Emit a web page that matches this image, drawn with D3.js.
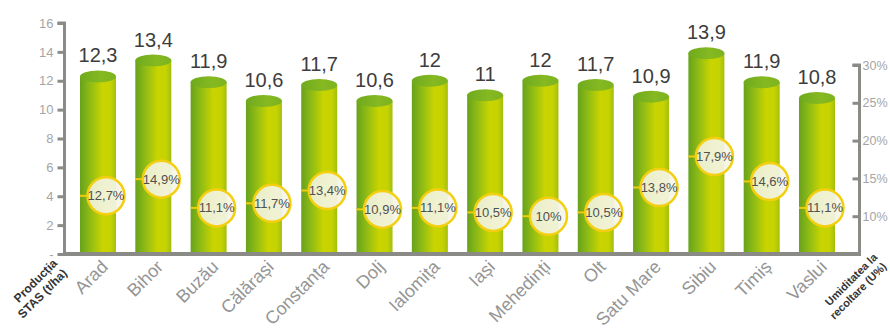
<!DOCTYPE html>
<html>
<head>
<meta charset="utf-8">
<script src="https://cdn.jsdelivr.net/npm/d3@7"></script>
<style>
  html, body { margin: 0; padding: 0; background: #fff; }
  svg { display: block; font-family: "Liberation Sans", Arial, sans-serif; }
</style>
</head>
<body>
<svg id="chart" width="890" height="329"></svg>
<script>
// Judeţe and their values
const categories = ["Arad", "Bihor", "Buzău", "Călărași", "Constanța", "Dolj", "Ialomița",
                    "Iași", "Mehedinți", "Olt", "Satu Mare", "Sibiu", "Timiș", "Vaslui"];
const production = [12.3, 13.4, 11.9, 10.6, 11.7, 10.6, 12, 11, 12, 11.7, 10.9, 13.9, 11.9, 10.8];
const humidity   = [12.7, 14.9, 11.1, 11.7, 13.4, 10.9, 11.1, 10.5, 10, 10.5, 13.8, 17.9, 14.6, 11.1];
const leftTicks  = [0, 2, 4, 6, 8, 10, 12, 14, 16];
const rightTicks = [10, 15, 20, 25, 30];

const svg = d3.select("#chart");
const base = 254;
const axisColor = "#8a8a86";
const fmt = v => String(v).replace(".", ",");

const x = d3.scalePoint().domain(categories).range([98, 817]);
const y = d3.scaleLinear().domain([0, 16]).range([base, 23]);
const yR = d3.scaleLinear().domain([5, 30]).range([base, 65]);
const barW = 36, ry = 6;

// gradients for the cylinders
const defs = svg.append("defs");
function gradient(id, stops) {
  const g = defs.append("linearGradient").attr("id", id)
    .attr("x1", 0).attr("x2", 1).attr("y1", 0).attr("y2", 0);
  stops.forEach(([o, c]) => g.append("stop").attr("offset", o).attr("stop-color", c));
}
gradient("cylBody", [["0%", "#67a21c"], ["30%", "#92bd14"], ["62%", "#c9d400"], ["85%", "#c6d302"], ["100%", "#a2bf0e"]]);
gradient("cylTop", [["0%", "#6eaa1e"], ["60%", "#86b921"], ["100%", "#7cb31f"]]);
gradient("disc", [["0%", "#eef1d6"], ["100%", "#f6f6ea"]]);

const data = categories.map((c, i) => ({ c, p: production[i], h: humidity[i] }));

// cylinders
const bars = svg.append("g").selectAll("g").data(data).join("g");
bars.append("rect")
  .attr("x", d => x(d.c) - barW / 2).attr("width", barW)
  .attr("y", d => y(d.p)).attr("height", d => base - y(d.p))
  .attr("fill", "url(#cylBody)");
bars.append("ellipse")
  .attr("cx", d => x(d.c)).attr("cy", d => y(d.p))
  .attr("rx", barW / 2).attr("ry", ry)
  .attr("fill", "url(#cylTop)");
bars.append("text")
  .attr("x", d => x(d.c)).attr("y", d => y(d.p) - 14)
  .attr("text-anchor", "middle").attr("font-size", 20).attr("fill", "#3d3d3d")
  .text(d => fmt(d.p));

// humidity markers
const marks = svg.append("g").selectAll("g").data(data).join("g");
marks.append("line")
  .attr("x1", d => x(d.c) - barW / 2).attr("x2", d => x(d.c) + 8)
  .attr("y1", d => yR(d.h)).attr("y2", d => yR(d.h))
  .attr("stroke", "#f2cc0c").attr("stroke-width", 2);
marks.append("circle")
  .attr("cx", d => x(d.c) + 8).attr("cy", d => yR(d.h)).attr("r", 18.5)
  .attr("fill", "url(#disc)").attr("fill-opacity", 0.93)
  .attr("stroke", "#f4cf10").attr("stroke-width", 2.5);
marks.append("text")
  .attr("x", d => x(d.c) + 8).attr("y", d => yR(d.h) + 4.5)
  .attr("text-anchor", "middle").attr("font-size", 13).attr("fill", "#505050")
  .text(d => fmt(d.h) + "%");

// left axis
const gL = svg.append("g").attr("transform", "translate(64.5,0)")
  .call(d3.axisLeft(y).tickValues(leftTicks).tickSize(7).tickPadding(4)
        .tickFormat(d => d === 0 ? "-" : d));
gL.select(".domain").attr("stroke", axisColor).attr("stroke-width", 3)
  .attr("d", `M-7,${y(16)}H0V${base}`);
gL.selectAll(".tick line").attr("stroke", axisColor).attr("stroke-width", 3);
gL.selectAll(".tick text").attr("fill", "#a5a5a5").attr("font-size", 13)
  .attr("font-family", "Liberation Sans, Arial, sans-serif");

// right axis
const gR = svg.append("g").attr("transform", "translate(859.5,0)")
  .call(d3.axisRight(yR).tickValues(rightTicks).tickSize(0).tickPadding(3)
        .tickFormat(d => d + "%"));
gR.select(".domain").attr("stroke", axisColor).attr("stroke-width", 3)
  .attr("d", `M-7,${yR(30)}H0V${base}`);
gR.selectAll(".tick").append("line").attr("x1", -7).attr("x2", 0)
  .attr("stroke", axisColor).attr("stroke-width", 3);
gR.selectAll(".tick text").attr("fill", "#a5a5a5").attr("font-size", 12.5)
  .attr("font-family", "Liberation Sans, Arial, sans-serif");

// baseline
svg.append("line").attr("x1", 63).attr("x2", 861).attr("y1", base).attr("y2", base)
  .attr("stroke", axisColor).attr("stroke-width", 4);

// category labels
svg.append("g").selectAll("text").data(categories).join("text")
  .attr("transform", d => `translate(${x(d) + 11},${base + 14}) rotate(-45)`)
  .attr("text-anchor", "end").attr("font-size", 18).attr("fill", "#959595")
  .text(d => d);

// axis titles
function title(xp, yp, size, lines) {
  const t = svg.append("text")
    .attr("transform", `translate(${xp},${yp}) rotate(-45)`)
    .attr("text-anchor", "end").attr("font-size", size).attr("font-weight", "bold")
    .attr("fill", "#333");
  lines.forEach((l, i) => t.append("tspan").attr("x", 0).attr("dy", i ? size + 2 : 0).text(l));
}
title(58, 264, 12, ["Producția", "STAS (t/ha)"]);
title(878, 258, 11, ["Umiditatea la", "recoltare (U%)"]);
</script>
</body>
</html>
